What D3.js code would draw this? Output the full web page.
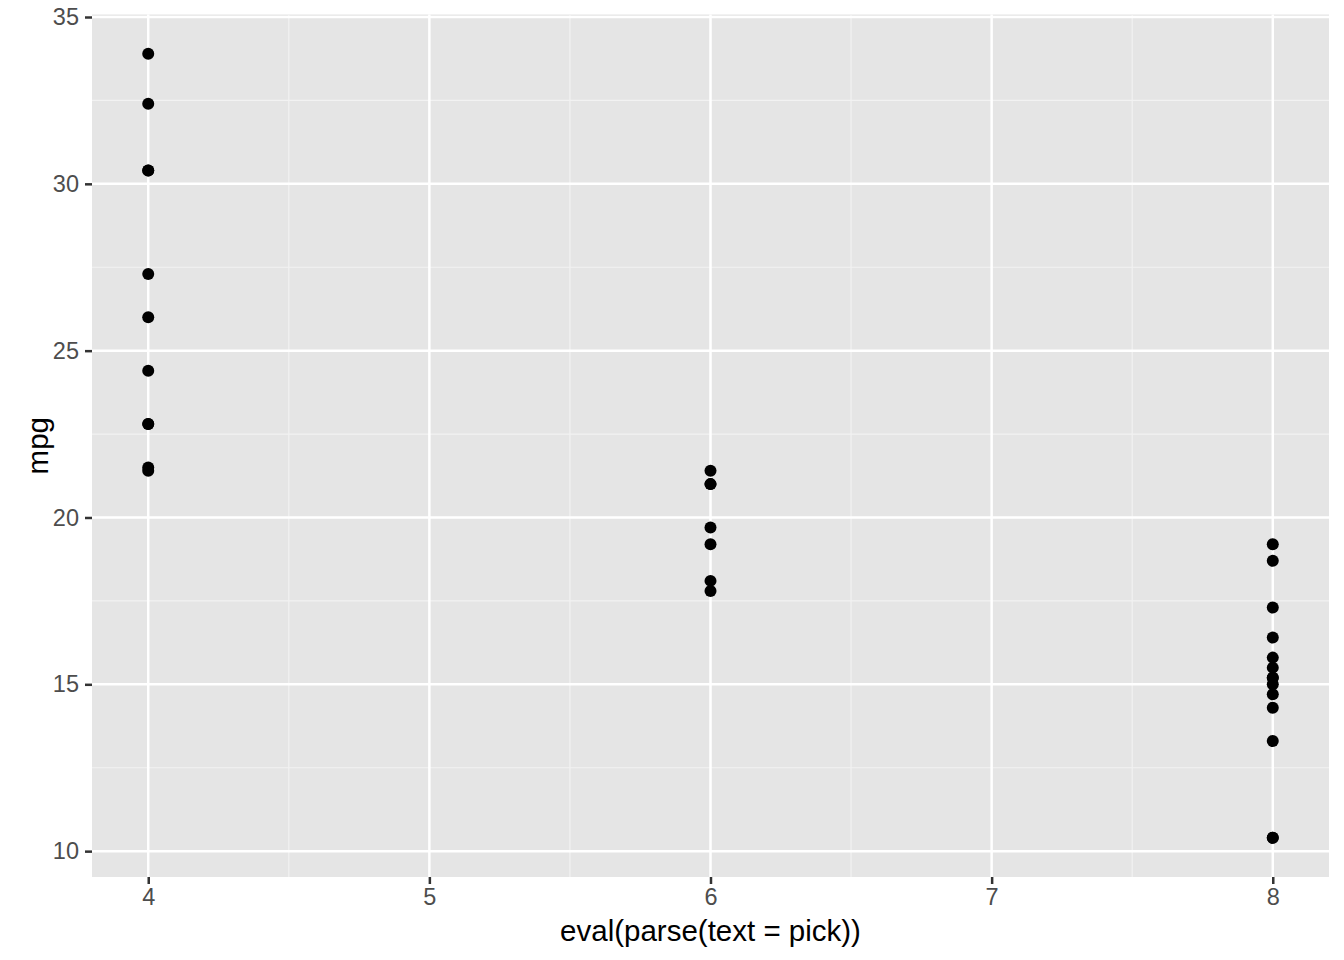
<!DOCTYPE html>
<html>
<head>
<meta charset="utf-8">
<script src="https://cdn.jsdelivr.net/npm/d3@7"></script>
<style>
  body { margin: 0; background: #fff; }
  text { font-family: "Liberation Sans", Arial, Helvetica, sans-serif; }
</style>
</head>
<body>
<div id="chart"></div>
<script>
// mtcars: cylinders and miles per gallon
var cyl = [6, 6, 4, 6, 8, 6, 8, 4, 4, 6, 6, 8, 8, 8, 8, 8, 8, 4, 4, 4, 4, 8, 8, 8, 8, 4, 4, 4, 8, 6, 8, 4];
var mpg = [21.0, 21.0, 22.8, 21.4, 18.7, 18.1, 14.3, 24.4, 22.8, 19.2, 17.8, 16.4, 17.3, 15.2, 10.4, 10.4,
           14.7, 32.4, 30.4, 33.9, 21.5, 15.5, 15.2, 13.3, 19.2, 27.3, 26.0, 30.4, 15.8, 19.7, 15.0, 21.4];
var xTicks = [4, 5, 6, 7, 8];
var xMinor = [4.5, 5.5, 6.5, 7.5];
var yTicks = [10, 15, 20, 25, 30, 35];
var yMinor = [12.5, 17.5, 22.5, 27.5, 32.5];

function init(){
	var w = 1344, h = 960;
	var left = 92, right = 1329, top = 14.5, bottom = 877;

	var xMin = d3.min(cyl), xMax = d3.max(cyl);
	var xPad = (xMax - xMin) * 0.05;
	var yMin = d3.min(mpg), yMax = d3.max(mpg);
	var yPad = (yMax - yMin) * 0.05;

	var x = d3.scaleLinear().domain([xMin - xPad, xMax + xPad]).range([left, right]);
	var y = d3.scaleLinear().domain([yMin - yPad, yMax + yPad]).range([bottom, top]);

	var svg = d3.select("#chart").append("svg")
		.attr("width", w)
		.attr("height", h);

	// panel background
	svg.append("rect")
		.attr("x", left).attr("y", top)
		.attr("width", right - left).attr("height", bottom - top)
		.attr("fill", "#e5e5e5");

	// minor grid
	svg.selectAll("line.xminor").data(xMinor).enter().append("line")
		.attr("x1", d => x(d)).attr("x2", d => x(d))
		.attr("y1", top).attr("y2", bottom)
		.attr("stroke", "#f2f2f2").attr("stroke-width", 1.2);
	svg.selectAll("line.yminor").data(yMinor).enter().append("line")
		.attr("x1", left).attr("x2", right)
		.attr("y1", d => y(d)).attr("y2", d => y(d))
		.attr("stroke", "#f2f2f2").attr("stroke-width", 1.2);

	// major grid
	svg.selectAll("line.xmajor").data(xTicks).enter().append("line")
		.attr("x1", d => x(d)).attr("x2", d => x(d))
		.attr("y1", top).attr("y2", bottom)
		.attr("stroke", "#fff").attr("stroke-width", 2.5);
	svg.selectAll("line.ymajor").data(yTicks).enter().append("line")
		.attr("x1", left).attr("x2", right)
		.attr("y1", d => y(d)).attr("y2", d => y(d))
		.attr("stroke", "#fff").attr("stroke-width", 2.5);

	// axes
	var xAxis = svg.append("g")
		.attr("transform", "translate(0," + bottom + ")")
		.call(d3.axisBottom(x).tickValues(xTicks).tickSize(7).tickPadding(4).tickFormat(d3.format("d")));
	var yAxis = svg.append("g")
		.attr("transform", "translate(" + left + ",0)")
		.call(d3.axisLeft(y).tickValues(yTicks).tickSize(7).tickPadding(6).tickFormat(d3.format("d")));
	[xAxis, yAxis].forEach(function(g){
		g.attr("font-size", null).attr("font-family", null);
		g.select(".domain").remove();
		g.selectAll(".tick line").attr("stroke", "#333").attr("stroke-width", 2.5);
		g.selectAll(".tick text").attr("fill", "#4d4d4d")
			.style("font-size", "23.5px");
	});

	// points
	svg.selectAll("circle").data(mpg).enter().append("circle")
		.attr("cx", (d, i) => x(cyl[i]))
		.attr("cy", d => y(d))
		.attr("r", 6)
		.attr("fill", "#000");

	// titles
	svg.append("text")
		.attr("x", (left + right) / 2).attr("y", 941)
		.attr("text-anchor", "middle")
		.style("font-size", "29.5px")
		.attr("fill", "#000")
		.text("eval(parse(text = pick))");
	svg.append("text")
		.attr("transform", "translate(48," + ((top + bottom) / 2) + ") rotate(-90)")
		.attr("text-anchor", "middle")
		.style("font-size", "29.5px")
		.attr("fill", "#000")
		.text("mpg");
}

window.onload = init;
</script>
</body>
</html>
